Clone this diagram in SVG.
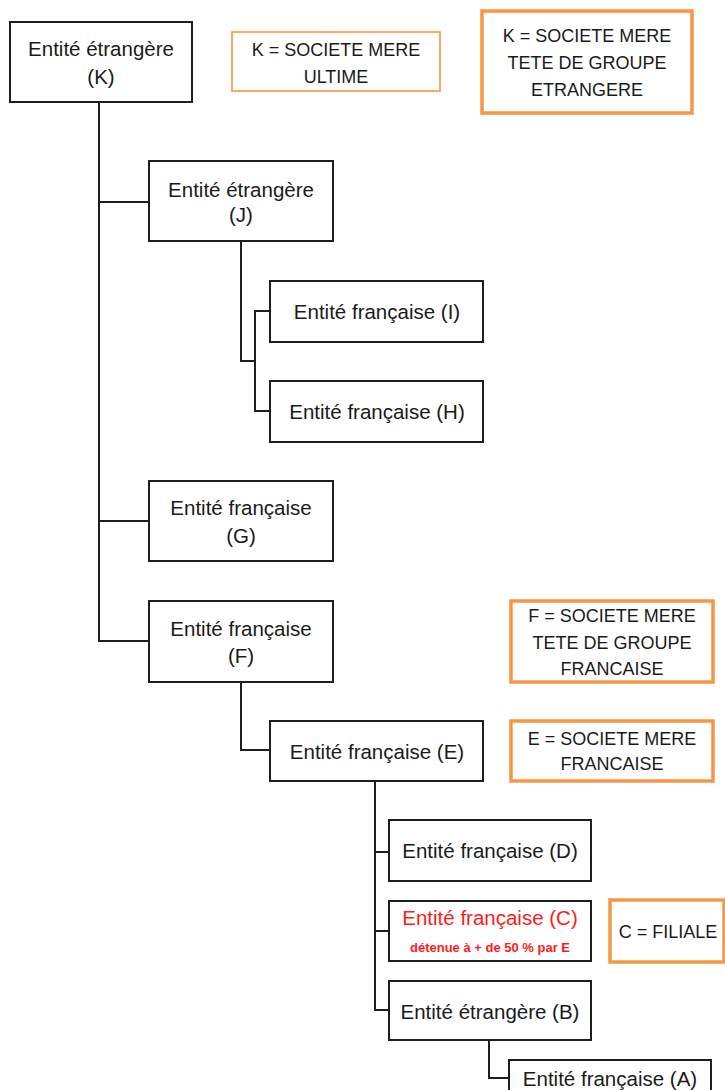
<svg xmlns="http://www.w3.org/2000/svg" width="725" height="1090" viewBox="0 0 725 1090">
<style>
.box{fill:#fff;stroke:#1e1e1e;stroke-width:2}
.ob1{fill:#fff;stroke:#f79646;stroke-width:1.6}
.ob2{fill:#fff;stroke:#f79646;stroke-width:3.5}
.t{font-family:"Liberation Sans",Arial,sans-serif;font-size:20.5px;fill:#1a1a1a;text-anchor:middle}
.o{font-family:"Liberation Sans",Arial,sans-serif;font-size:18px;fill:#1a1a1a;text-anchor:middle}
.r{fill:#ff1a1a}
.s{font-family:"Liberation Sans",Arial,sans-serif;font-size:13px;font-weight:bold;fill:#ff1a1a;text-anchor:middle}
.c{fill:none;stroke:#1e1e1e;stroke-width:2}
</style>
<rect width="725" height="1090" fill="#fff"/>
<g id="connectors" class="c">
<polyline points="99,102 99,641 149,641"/>
<line x1="99" y1="202" x2="149" y2="202"/>
<line x1="99" y1="521" x2="149" y2="521"/>
<polyline points="241,241 241,361 255,361"/>
<polyline points="270,311 255,311 255,411 270,411"/>
<polyline points="241,682 241,750 270,750"/>
<polyline points="375,781 375,1010 389,1010"/>
<line x1="375" y1="852" x2="389" y2="852"/>
<line x1="375" y1="931" x2="389" y2="931"/>
<polyline points="489,1040 489,1078 509,1078"/>
</g>
<g id="nodeK"><rect class="box" x="10" y="22" width="182" height="80"/><text class="t" x="101" y="56">Entité étrangère</text><text class="t" x="101" y="84">(K)</text></g>
<g id="noteK1"><rect class="ob1" x="232" y="32" width="208" height="59"/><text class="o" x="336" y="56">K = SOCIETE MERE</text><text class="o" x="336" y="83">ULTIME</text></g>
<g id="noteK2"><rect class="ob2" x="482" y="11" width="210" height="102"/><text class="o" x="587" y="42">K = SOCIETE MERE</text><text class="o" x="587" y="69">TETE DE GROUPE</text><text class="o" x="587" y="96">ETRANGERE</text></g>
<g id="nodeJ"><rect class="box" x="149" y="161" width="184" height="80"/><text class="t" x="241" y="197">Entité étrangère</text><text class="t" x="241" y="222">(J)</text></g>
<g id="nodeI"><rect class="box" x="270" y="281" width="213" height="61"/><text class="t" x="377" y="319">Entité française (I)</text></g>
<g id="nodeH"><rect class="box" x="270" y="381" width="213" height="61"/><text class="t" x="377" y="419">Entité française (H)</text></g>
<g id="nodeG"><rect class="box" x="149" y="481" width="184" height="80"/><text class="t" x="241" y="515">Entité française</text><text class="t" x="241" y="543">(G)</text></g>
<g id="nodeF"><rect class="box" x="149" y="601" width="184" height="81"/><text class="t" x="241" y="636">Entité française</text><text class="t" x="241" y="663">(F)</text></g>
<g id="noteF"><rect class="ob2" x="511" y="601" width="202" height="81"/><text class="o" x="612" y="622">F = SOCIETE MERE</text><text class="o" x="612" y="649">TETE DE GROUPE</text><text class="o" x="612" y="675">FRANCAISE</text></g>
<g id="nodeE"><rect class="box" x="270" y="721" width="213" height="60"/><text class="t" x="377" y="759">Entité française (E)</text></g>
<g id="noteE"><rect class="ob2" x="511" y="721" width="202" height="60"/><text class="o" x="612" y="745">E = SOCIETE MERE</text><text class="o" x="612" y="770">FRANCAISE</text></g>
<g id="nodeD"><rect class="box" x="389" y="820" width="202" height="61"/><text class="t" x="490" y="858">Entité française (D)</text></g>
<g id="nodeC"><rect class="box" x="389" y="901" width="202" height="60"/><text class="t r" x="490" y="925">Entité française (C)</text><text class="s" x="490" y="952">détenue à + de 50 % par E</text></g>
<g id="noteC"><rect class="ob2" x="610" y="900" width="114" height="62"/><text class="o" x="668" y="938">C = FILIALE</text></g>
<g id="nodeB"><rect class="box" x="389" y="981" width="202" height="59"/><text class="t" x="490" y="1019">Entité étrangère (B)</text></g>
<g id="nodeA"><rect class="box" x="509" y="1060" width="202" height="45"/><text class="t" x="610" y="1086">Entité française (A)</text></g>
</svg>
